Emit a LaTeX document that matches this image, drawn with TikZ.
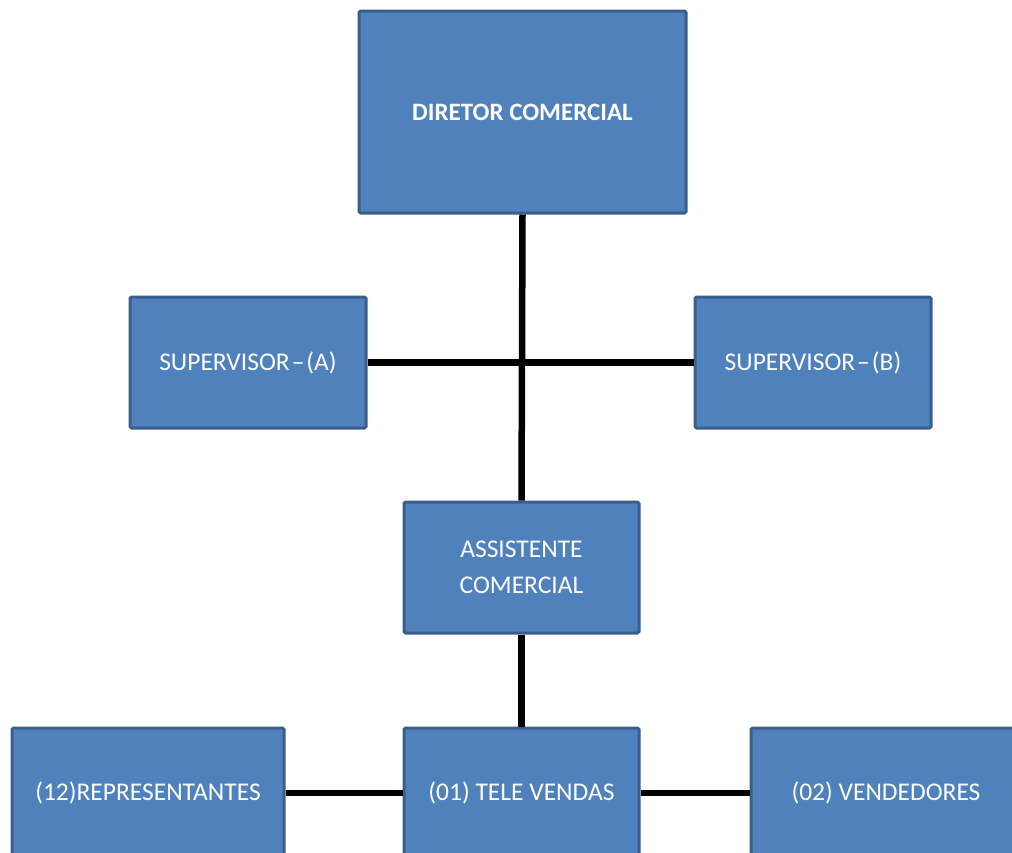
\documentclass[tikz,border=0pt]{standalone}
\usepackage{fontspec}
\setmainfont{Carlito}
\definecolor{boxfill}{HTML}{4F81BD}
\definecolor{boxline}{HTML}{3A5E8C}
\begin{document}
\begin{tikzpicture}[x=1pt,y=-1pt,
  orgbox/.style={draw=boxline, fill=boxfill, line width=3pt, rounded corners=1.5pt,
    text=white, align=center, inner sep=0pt, font=\fontsize{25.5}{36}\selectfont},
  link/.style={line width=6.5pt, black}]
\useasboundingbox (0,0) rectangle (1012,852);
\clip (0,0) rectangle (1012,852);
\node[orgbox, minimum width=327pt, minimum height=202pt, font=\fontsize{25}{30}\selectfont\bfseries] (dir) at (522.5,112) {DIRETOR COMERCIAL};
\node[orgbox, minimum width=236pt, minimum height=131pt] (supa) at (248,362.5) {SUPERVISOR\kern2pt–\kern2pt(A)};
\node[orgbox, minimum width=236pt, minimum height=131pt] (supb) at (813,362.5) {SUPERVISOR\kern2pt–\kern2pt(B)};
\node[orgbox, minimum width=235pt, minimum height=131pt] (assist) at (521.5,567.5) {ASSISTENTE\\COMERCIAL};
\node[orgbox, minimum width=272pt, minimum height=130pt] (rep) at (148,793) {(12)REPRESENTANTES};
\node[orgbox, minimum width=235pt, minimum height=130pt] (tele) at (521.5,793) {(01) TELE VENDAS};
\node[orgbox, minimum width=270pt, minimum height=130pt] (vend) at (886,793) {(02) VENDEDORES};
\draw[link] (dir.south) -- (assist.north);
\draw[link] (supa.east) -- (supb.west);
\draw[link] (assist.south) -- (tele.north);
\draw[link] (rep.east) -- (tele.west);
\draw[link] (tele.east) -- (vend.west);
\end{tikzpicture}
\end{document}
